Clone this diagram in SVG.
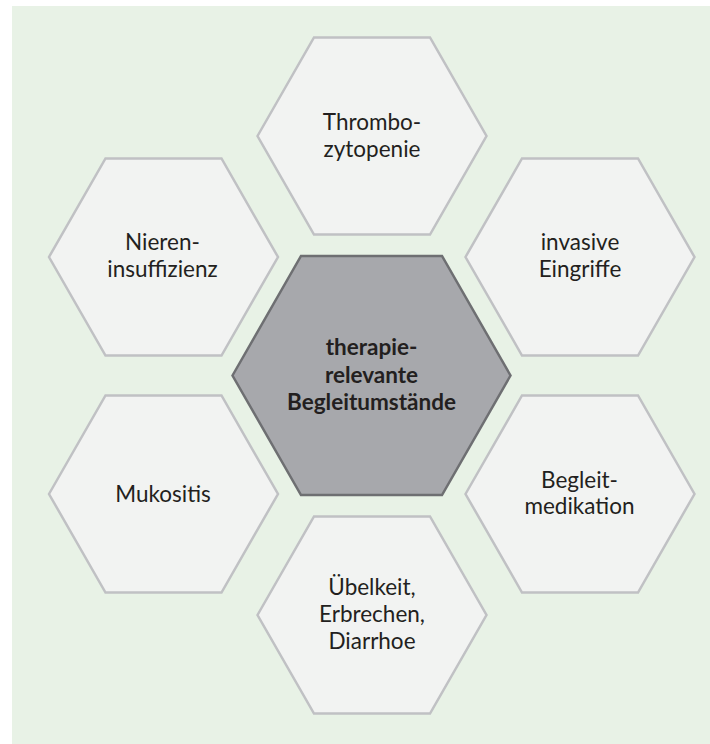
<svg xmlns="http://www.w3.org/2000/svg" xmlns:xlink="http://www.w3.org/1999/xlink" width="710" height="744" viewBox="0 0 710 744">
<style>
.hex{fill:#f2f3f2;stroke:#c0c1c4;stroke-width:2.5}
.hexc{fill:#a7a8ac;stroke:#6e6f72;stroke-width:2.5}
.t{font-family:Lato,"Open Sans","Liberation Sans",sans-serif;font-size:22.5px;fill:#231f20;text-anchor:middle}
.b{font-weight:bold;font-size:22.5px}
</style>
<defs>
<polygon id="hx" points="-114.5,0 -58,-98.5 58,-98.5 114.5,0 58,98.5 -58,98.5"/>
</defs>
<rect x="12" y="6" width="698" height="738" fill="#e8f2e6"/>
<g id="thrombozytopenie">
<use xlink:href="#hx" href="#hx" class="hex" transform="translate(372,136)"/>
<text class="t" x="372" y="130">Thrombo-</text>
<text class="t" x="372" y="157">zytopenie</text>
</g>
<g id="niereninsuffizienz">
<use xlink:href="#hx" href="#hx" class="hex" transform="translate(163.5,257)"/>
<text class="t" x="162.5" y="250">Nieren-</text>
<text class="t" x="162.5" y="277">insuffizienz</text>
</g>
<g id="invasive-eingriffe">
<use xlink:href="#hx" href="#hx" class="hex" transform="translate(580,257)"/>
<text class="t" x="580" y="250">invasive</text>
<text class="t" x="580" y="277">Eingriffe</text>
</g>
<g id="mukositis">
<use xlink:href="#hx" href="#hx" class="hex" transform="translate(163.5,494)"/>
<text class="t" x="163" y="501.5">Mukositis</text>
</g>
<g id="begleitmedikation">
<use xlink:href="#hx" href="#hx" class="hex" transform="translate(580,494)"/>
<text class="t" x="579.5" y="487.5">Begleit-</text>
<text class="t" x="579.5" y="514">medikation</text>
</g>
<g id="uebelkeit">
<use xlink:href="#hx" href="#hx" class="hex" transform="translate(372,615)"/>
<text class="t" x="372" y="595">Übelkeit,</text>
<text class="t" x="372" y="622">Erbrechen,</text>
<text class="t" x="372" y="649">Diarrhoe</text>
</g>
<g id="center">
<polygon class="hexc" points="232.5,375.5 301,256 442,256 510.5,375.5 442,495 301,495"/>
<text class="t b" x="371.5" y="355">therapie-</text>
<text class="t b" x="371.5" y="382.5">relevante</text>
<text class="t b" x="371.5" y="409.5">Begleitumstände</text>
</g>
</svg>
